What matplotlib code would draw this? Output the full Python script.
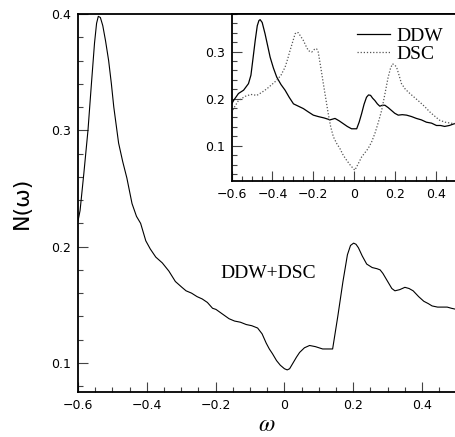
import matplotlib
matplotlib.use("Agg")
import matplotlib.pyplot as plt
from matplotlib.ticker import MultipleLocator

# Main curve: DDW+DSC
w_main = [-0.600, -0.594, -0.583, -0.571, -0.561, -0.552, -0.546, -0.541, -0.535,
          -0.528, -0.520, -0.511, -0.503, -0.496, -0.482, -0.470, -0.458, -0.443,
          -0.430, -0.418, -0.403, -0.390, -0.374, -0.355, -0.336, -0.317, -0.298,
          -0.286, -0.270, -0.254, -0.239, -0.224, -0.209, -0.199, -0.180, -0.161,
          -0.145, -0.128, -0.111, -0.095, -0.078, -0.065, -0.053, -0.044, -0.035,
          -0.023, -0.012, 0.000, 0.008, 0.015, 0.025, 0.035, 0.044, 0.058, 0.073,
          0.090, 0.111, 0.125, 0.140, 0.155, 0.170, 0.183, 0.192, 0.201, 0.208,
          0.215, 0.226, 0.239, 0.255, 0.269, 0.278, 0.286, 0.300, 0.312, 0.321,
          0.335, 0.350, 0.362, 0.374, 0.390, 0.405, 0.418, 0.429, 0.445, 0.460,
          0.473, 0.485, 0.500]
N_main = [0.222, 0.231, 0.263, 0.300, 0.340, 0.375, 0.392, 0.398, 0.397,
          0.390, 0.377, 0.360, 0.340, 0.320, 0.289, 0.273, 0.259, 0.237,
          0.226, 0.220, 0.205, 0.198, 0.191, 0.186, 0.179, 0.170, 0.165,
          0.162, 0.160, 0.157, 0.155, 0.152, 0.147, 0.146, 0.142, 0.138,
          0.136, 0.135, 0.133, 0.132, 0.130, 0.125, 0.117, 0.112, 0.108,
          0.102, 0.098, 0.095, 0.094, 0.095, 0.100, 0.105, 0.109, 0.113, 0.115,
          0.114, 0.112, 0.112, 0.112, 0.140, 0.170, 0.193, 0.201, 0.203, 0.202,
          0.199, 0.192, 0.185, 0.182, 0.181, 0.180, 0.177, 0.170, 0.164, 0.162,
          0.163, 0.165, 0.164, 0.162, 0.157, 0.153, 0.151, 0.149, 0.148, 0.148,
          0.148, 0.147, 0.146]

# Inset: DDW (solid)
w_ddw = [-0.600, -0.590, -0.566, -0.541, -0.517, -0.505, -0.495, -0.484, -0.474,
         -0.466, -0.460, -0.450, -0.436, -0.423, -0.411, -0.395, -0.379, -0.358,
         -0.338, -0.318, -0.297, -0.273, -0.249, -0.225, -0.200, -0.176, -0.147,
         -0.118, -0.094, -0.074, -0.054, -0.034, -0.013, 0.012, 0.024, 0.036,
         0.048, 0.060, 0.070, 0.080, 0.090, 0.101, 0.113, 0.125, 0.137, 0.150,
         0.166, 0.182, 0.198, 0.215, 0.235, 0.256, 0.280, 0.304, 0.328, 0.353,
         0.378, 0.402, 0.422, 0.442, 0.465, 0.491]
N_ddw = [0.188, 0.196, 0.211, 0.218, 0.232, 0.250, 0.285, 0.324, 0.355,
         0.366, 0.368, 0.362, 0.338, 0.312, 0.288, 0.265, 0.246, 0.230,
         0.218, 0.203, 0.189, 0.184, 0.179, 0.172, 0.165, 0.162, 0.159,
         0.155, 0.158, 0.153, 0.147, 0.141, 0.136, 0.136, 0.150, 0.168,
         0.188, 0.203, 0.208, 0.207, 0.201, 0.196, 0.189, 0.184, 0.186, 0.186,
         0.181, 0.175, 0.169, 0.165, 0.166, 0.165, 0.162, 0.158, 0.155, 0.150,
         0.148, 0.143, 0.143, 0.141, 0.143, 0.147]

# Inset: DSC (dotted)
w_dsc = [-0.600, -0.590, -0.566, -0.533, -0.505, -0.476, -0.450, -0.427, -0.403,
         -0.379, -0.358, -0.338, -0.325, -0.314, -0.300, -0.289, -0.281, -0.273,
         -0.261, -0.249, -0.236, -0.224, -0.208, -0.192, -0.184, -0.176, -0.163,
         -0.151, -0.139, -0.127, -0.115, -0.102, -0.086, -0.070, -0.054, -0.037,
         -0.018, 0.003, 0.020, 0.036, 0.052, 0.068, 0.085, 0.101, 0.118, 0.134,
         0.150, 0.166, 0.177, 0.187, 0.197, 0.207, 0.219, 0.231, 0.250, 0.272,
         0.296, 0.320, 0.345, 0.369, 0.393, 0.418, 0.445, 0.470, 0.491]
N_dsc = [0.170, 0.179, 0.196, 0.205, 0.209, 0.207, 0.214, 0.221, 0.230,
         0.239, 0.250, 0.267, 0.285, 0.302, 0.322, 0.338, 0.341, 0.340,
         0.332, 0.324, 0.312, 0.302, 0.299, 0.306, 0.306, 0.299, 0.265,
         0.232, 0.200, 0.168, 0.140, 0.119, 0.105, 0.094, 0.080, 0.069,
         0.058, 0.048, 0.062, 0.076, 0.085, 0.094, 0.108, 0.126, 0.150, 0.175,
         0.210, 0.246, 0.264, 0.274, 0.272, 0.267, 0.250, 0.232, 0.220, 0.211,
         0.202, 0.193, 0.183, 0.172, 0.163, 0.154, 0.150, 0.148, 0.147]

main_label = "DDW+DSC"
series_labels = ["DDW", "DSC"]
main_xticks = [-0.6, -0.4, -0.2, 0.0, 0.2, 0.4]
main_yticks = [0.1, 0.2, 0.3, 0.4]
inset_yticks = [0.1, 0.2, 0.3]

plt.rcParams['font.family'] = ['DejaVu Sans']
plt.rcParams['mathtext.fontset'] = 'stix'

fig = plt.figure(figsize=(4.55, 4.37), dpi=100)
W, H = 455.0, 437.0

def rect(l, t, r, b):
    return [l / W, (H - b) / H, (r - l) / W, (b - t) / H]

ax = fig.add_axes(rect(78, 14, 456.5, 392))
ax.plot(w_main, N_main, color='black', lw=0.8)
ax.set_xlim(-0.6, 0.5)
ax.set_ylim(0.075, 0.4)
ax.set_xticks(main_xticks)
ax.set_xticklabels(["\u22120.6", "\u22120.4", "\u22120.2", "0", "0.2", "0.4"])
ax.set_yticks(main_yticks)
ax.set_yticklabels(["0.1", "0.2", "0.3", "0.4"])
ax.xaxis.set_minor_locator(MultipleLocator(0.05))
ax.yaxis.set_minor_locator(MultipleLocator(0.02))
ax.tick_params(which='both', direction='in', top=False, right=False,
               labelsize=9, pad=5, width=0.8, color='#444444')
ax.tick_params(which='major', length=7)
ax.tick_params(which='minor', length=3.5)
for s in ax.spines.values():
    s.set_linewidth(1.3)
fig.text(267 / W, 1 - 424 / H, r"$\omega$", fontsize=17, ha='center', va='center')
ax.set_ylabel("N(\u03c9)", fontsize=16, family='DejaVu Sans', labelpad=14)
ax.text(-0.185, 0.1766, main_label, fontsize=14, family='Liberation Serif',
        va='center', ha='left')

ins = fig.add_axes(rect(231.5, 14, 456.5, 181))
ins.plot(w_ddw, N_ddw, color='black', lw=0.9, label=series_labels[0])
ins.plot(w_dsc, N_dsc, color='#555555', lw=0.9, ls=(0, (1, 1.5)), label=series_labels[1])
ins.set_xlim(-0.6, 0.5)
ins.set_ylim(0.025, 0.38)
ins.set_xticks(main_xticks)
ins.set_xticklabels(["\u22120.6", "\u22120.4", "\u22120.2", "0", "0.2", "0.4"])
ins.set_yticks(inset_yticks)
ins.set_yticklabels(["0.1", "0.2", "0.3"])
ins.xaxis.set_minor_locator(MultipleLocator(0.05))
ins.yaxis.set_minor_locator(MultipleLocator(0.02))
ins.tick_params(which='both', direction='in', top=False, right=False,
                labelsize=9, pad=5, width=0.8, color='#444444')
ins.tick_params(which='major', length=7)
ins.tick_params(which='minor', length=3.5)
for s in ins.spines.values():
    s.set_linewidth(1.3)
leg = ins.legend(loc='upper right', frameon=False, handlelength=1.7,
                 handletextpad=0.3, labelspacing=0.0, borderaxespad=0.3,
                 prop={'family': 'Liberation Serif', 'size': 14})

fig.savefig("out.png", dpi=100)
